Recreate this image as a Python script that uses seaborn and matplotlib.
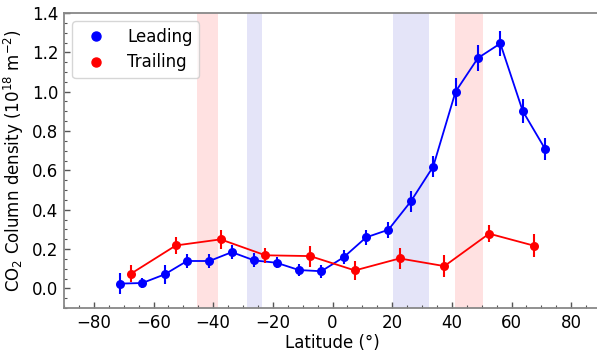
import matplotlib
matplotlib.use("Agg")
import matplotlib.pyplot as plt
import seaborn as sns
import pandas as pd
import numpy as np
from matplotlib.lines import Line2D
from matplotlib.ticker import MultipleLocator

# Leading hemisphere profile
lead_lat = [-71.25, -63.75, -56.25, -48.75, -41.25, -33.75, -26.25, -18.75, -11.25, -3.75,
            3.75, 11.25, 18.75, 26.25, 33.75, 41.25, 48.75, 56.25, 63.75, 71.25]
lead_val = [0.024, 0.027, 0.071, 0.139, 0.139, 0.184, 0.142, 0.130, 0.093, 0.087,
            0.158, 0.259, 0.298, 0.442, 0.619, 1.000, 1.171, 1.245, 0.902, 0.709]
lead_err = [0.055, 0.027, 0.050, 0.036, 0.034, 0.036, 0.036, 0.028, 0.030, 0.032,
            0.036, 0.039, 0.040, 0.052, 0.053, 0.072, 0.068, 0.064, 0.063, 0.054]

# Trailing hemisphere profile
trail_lat = [-67.5, -52.5, -37.5, -22.5, -7.5, 7.5, 22.5, 37.5, 52.5, 67.5]
trail_val = [0.075, 0.218, 0.249, 0.168, 0.164, 0.091, 0.152, 0.113, 0.278, 0.217]
trail_err = [0.044, 0.045, 0.047, 0.038, 0.053, 0.050, 0.055, 0.054, 0.044, 0.060]

# Shaded latitude bands
red_bands = [(-45.5, -38.4), (41.0, 50.5)]
blue_bands = [(-28.8, -23.5), (20.2, 32.5)]

sns.set_style("white")
plt.rcParams["font.family"] = ["DejaVu Sans"]
plt.rcParams["text.color"] = "black"
plt.rcParams["axes.labelcolor"] = "black"
plt.rcParams["xtick.labelcolor"] = "black"
plt.rcParams["ytick.labelcolor"] = "black"

fig = plt.figure(figsize=(5.97, 3.51), dpi=100)
ax = fig.add_axes([64 / 597, (351 - 308) / 351, (601 - 64) / 597, (308 - 13) / 351])

for a, b in red_bands:
    ax.axvspan(a, b, color="#ffe1e1", lw=0, zorder=0)
for a, b in blue_bands:
    ax.axvspan(a, b, color="#e4e4f8", lw=0, zorder=0)

lead = pd.DataFrame({"lat": lead_lat, "val": lead_val, "err": lead_err})
trail = pd.DataFrame({"lat": trail_lat, "val": trail_val, "err": trail_err})

for df, c in [(lead, "blue"), (trail, "red")]:
    sns.lineplot(data=df, x="lat", y="val", color=c, lw=1.3, marker="o",
                 markersize=6.5, markeredgewidth=0, ax=ax, zorder=3)
    ax.errorbar(df["lat"], df["val"], yerr=df["err"], fmt="none",
                ecolor=c, elinewidth=1.5, zorder=3)

ax.set_xlim(-90, 90)
ax.set_ylim(-0.1, 1.4)
ax.xaxis.set_major_locator(MultipleLocator(20))
ax.xaxis.set_minor_locator(MultipleLocator(5))
ax.yaxis.set_major_locator(MultipleLocator(0.2))
ax.yaxis.set_minor_locator(MultipleLocator(0.05))
ax.tick_params(which="both", direction="in", color="#555555",
               bottom=True, left=True, top=False, right=False)
ax.tick_params(which="major", length=4, width=1, labelsize=12, pad=4)
ax.tick_params(which="minor", length=2, width=0.8)
for s in ax.spines.values():
    s.set_color("#888888")
    s.set_linewidth(1.3)

ax.set_xlabel("Latitude (°)", fontsize=12, labelpad=2)
ax.set_ylabel("CO$_2$ Column density (10$^{18}$ m$^{-2}$)", fontsize=12)

handles = [Line2D([], [], ls="none", marker="o", color="blue", markersize=6.5),
           Line2D([], [], ls="none", marker="o", color="red", markersize=6.5)]
ax.legend(handles, ["Leading", "Trailing"], loc="upper left",
          fontsize=12, handletextpad=0.9, borderpad=0.4,
          labelspacing=0.45, frameon=True)

fig.savefig("out.png", dpi=100)
